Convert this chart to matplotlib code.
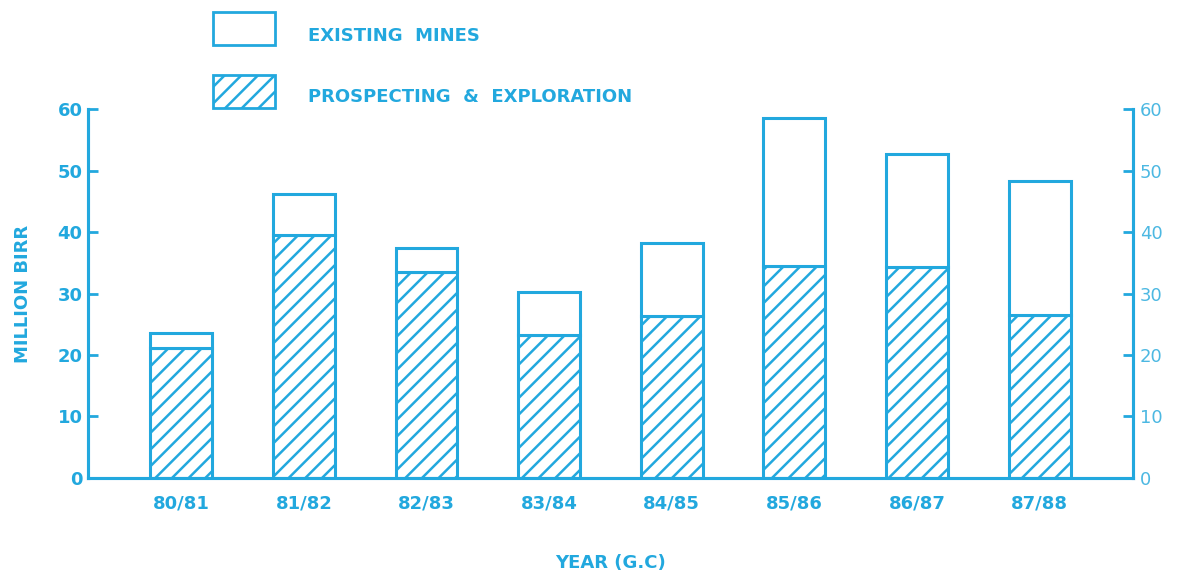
import matplotlib.pyplot as plt
import numpy as np

years = ['80/81', '81/82', '82/83', '83/84', '84/85', '85/86', '86/87', '87/88']
prospecting = [21.1, 39.5, 33.5, 23.3, 26.3, 34.5, 34.3, 26.5]
total = [23.6, 46.2, 37.4, 30.2, 38.2, 58.5, 52.7, 48.3]
existing = [t - p for t, p in zip(total, prospecting)]
yticks = [0, 10, 20, 30, 40, 50, 60]

blue = '#22a8de'
plt.rcParams['hatch.linewidth'] = 1.8
plt.rcParams['hatch.color'] = blue

fig = plt.figure(figsize=(11.85, 5.82), dpi=100)
ax = fig.add_axes([0.0743, 0.1787, 0.8817, 0.634])
x = np.arange(len(years))
w = 0.505

ax.bar(x, prospecting, w, facecolor='white', edgecolor=blue, hatch='//', linewidth=2.2)
ax.bar(x, existing, w, bottom=prospecting, facecolor='white', edgecolor=blue, linewidth=2.2)

ax.set_xlim(-0.76, 7.76)
ax.set_ylim(0, 60)
ax.set_yticks(yticks)
ax.set_xticks(x)
ax.set_xticklabels(years, fontsize=13, fontweight='bold', color=blue)
ax.tick_params(axis='x', length=0, pad=12)
ax.tick_params(axis='y', direction='in', length=7, width=2, color=blue,
               labelsize=13, labelcolor=blue, pad=4)
for lab in ax.get_yticklabels():
    lab.set_fontweight('bold')

ax2 = ax.twinx()
ax2.set_ylim(0, 60)
ax2.set_yticks(yticks)
ax2.tick_params(axis='y', direction='in', length=7, width=2, color=blue,
                labelsize=13, labelcolor='#4cb8e2', pad=5)

for a in (ax, ax2):
    a.spines['top'].set_visible(False)
    for s in ('left', 'right', 'bottom'):
        a.spines[s].set_color(blue)
        a.spines[s].set_linewidth(2.2)

ax.set_ylabel('MILLION BIRR', fontsize=13, fontweight='bold', color=blue, labelpad=18)
ax.set_xlabel('YEAR (G.C)', fontsize=13, fontweight='bold', color=blue, labelpad=30)

# legend drawn at the top of the figure
fig.patches.append(plt.Rectangle((213 / 1185, 1 - 45 / 582), 62 / 1185, 33 / 582,
                                 transform=fig.transFigure, facecolor='white',
                                 edgecolor=blue, linewidth=2))
fig.patches.append(plt.Rectangle((213 / 1185, 1 - 108 / 582), 62 / 1185, 33 / 582,
                                 transform=fig.transFigure, facecolor='white',
                                 edgecolor=blue, linewidth=2, hatch='//'))
fig.text(308 / 1185, 1 - 36 / 582, 'EXISTING  MINES', fontsize=13, fontweight='bold',
         color=blue, va='center')
fig.text(308 / 1185, 1 - 97 / 582, 'PROSPECTING  &  EXPLORATION', fontsize=13,
         fontweight='bold', color=blue, va='center')

fig.savefig('out.png', dpi=100)
